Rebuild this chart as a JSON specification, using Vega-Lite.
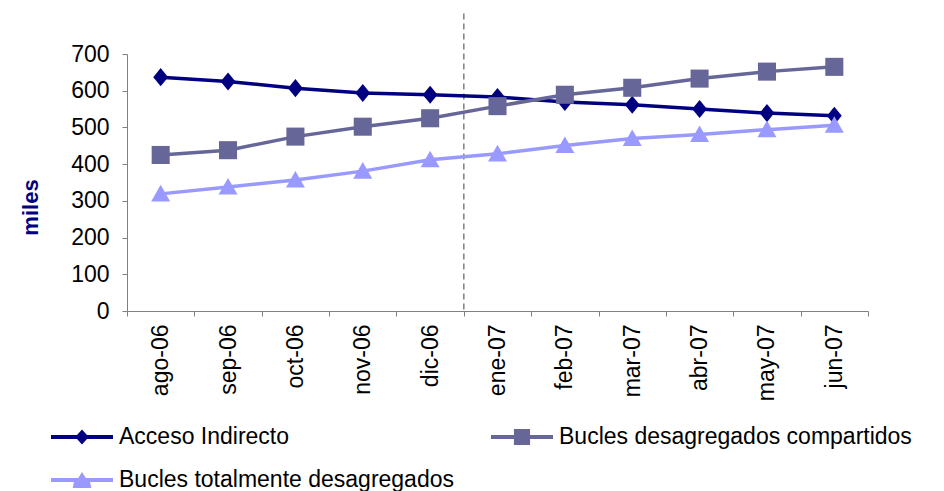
{
  "$schema": "https://vega.github.io/schema/vega-lite/v6.json",
  "width": 741,
  "height": 257,
  "padding": {"left": 19, "top": 12, "right": 0, "bottom": 0},
  "background": "white",
  "config": {
    "view": {"stroke": null},
    "font": "Liberation Sans",
    "axis": {"labelFont": "Liberation Sans", "titleFont": "Liberation Sans", "labelColor": "#000000", "domainColor": "#808080", "tickColor": "#808080", "grid": false, "labelFontSize": 23}
  },
  "datasets": {
    "series": [
      {"mes": "ago-06", "serie": "Acceso Indirecto", "v": 637},
      {"mes": "sep-06", "serie": "Acceso Indirecto", "v": 625},
      {"mes": "oct-06", "serie": "Acceso Indirecto", "v": 607},
      {"mes": "nov-06", "serie": "Acceso Indirecto", "v": 594},
      {"mes": "dic-06", "serie": "Acceso Indirecto", "v": 589},
      {"mes": "ene-07", "serie": "Acceso Indirecto", "v": 583},
      {"mes": "feb-07", "serie": "Acceso Indirecto", "v": 569},
      {"mes": "mar-07", "serie": "Acceso Indirecto", "v": 562},
      {"mes": "abr-07", "serie": "Acceso Indirecto", "v": 550},
      {"mes": "may-07", "serie": "Acceso Indirecto", "v": 539},
      {"mes": "jun-07", "serie": "Acceso Indirecto", "v": 532},
      {"mes": "ago-06", "serie": "Bucles desagregados compartidos", "v": 425},
      {"mes": "sep-06", "serie": "Bucles desagregados compartidos", "v": 438},
      {"mes": "oct-06", "serie": "Bucles desagregados compartidos", "v": 475},
      {"mes": "nov-06", "serie": "Bucles desagregados compartidos", "v": 502},
      {"mes": "dic-06", "serie": "Bucles desagregados compartidos", "v": 525},
      {"mes": "ene-07", "serie": "Bucles desagregados compartidos", "v": 558},
      {"mes": "feb-07", "serie": "Bucles desagregados compartidos", "v": 589},
      {"mes": "mar-07", "serie": "Bucles desagregados compartidos", "v": 608},
      {"mes": "abr-07", "serie": "Bucles desagregados compartidos", "v": 633},
      {"mes": "may-07", "serie": "Bucles desagregados compartidos", "v": 652},
      {"mes": "jun-07", "serie": "Bucles desagregados compartidos", "v": 665},
      {"mes": "ago-06", "serie": "Bucles totalmente desagregados", "v": 319},
      {"mes": "sep-06", "serie": "Bucles totalmente desagregados", "v": 338},
      {"mes": "oct-06", "serie": "Bucles totalmente desagregados", "v": 357},
      {"mes": "nov-06", "serie": "Bucles totalmente desagregados", "v": 381},
      {"mes": "dic-06", "serie": "Bucles totalmente desagregados", "v": 412},
      {"mes": "ene-07", "serie": "Bucles totalmente desagregados", "v": 428},
      {"mes": "feb-07", "serie": "Bucles totalmente desagregados", "v": 451},
      {"mes": "mar-07", "serie": "Bucles totalmente desagregados", "v": 470},
      {"mes": "abr-07", "serie": "Bucles totalmente desagregados", "v": 481},
      {"mes": "may-07", "serie": "Bucles totalmente desagregados", "v": 494},
      {"mes": "jun-07", "serie": "Bucles totalmente desagregados", "v": 506}
    ],
    "corte": [{"mes": "ene-07"}]
  },
  "resolve": {
    "scale": {"color": "independent", "shape": "independent"},
    "legend": {"color": "independent", "shape": "independent"}
  },
  "layer": [
    {
      "data": {"name": "corte"},
      "mark": {"type": "rule", "color": "#7f7f7f", "strokeWidth": 1.5, "strokeDash": [6, 4], "clip": false},
      "encoding": {
        "x": {"field": "mes", "type": "ordinal", "bandPosition": 0,
          "scale": {"domain": ["ago-06", "sep-06", "oct-06", "nov-06", "dic-06", "ene-07", "feb-07", "mar-07", "abr-07", "may-07", "jun-07"]},
          "axis": {"title": null, "labelAngle": -90, "labelAlign": "right", "labelBaseline": "middle", "tickBand": "extent", "tickSize": 5, "labelPadding": 8, "domainColor": "#808080"}},
        "y": {"datum": 810, "type": "quantitative",
          "scale": {"domain": [0, 700], "nice": false},
          "axis": {"title": "miles", "titleFontSize": 22, "titleFontWeight": "bold", "titleColor": "#000080", "titlePadding": 28, "titleY": 153, "values": [0, 100, 200, 300, 400, 500, 600, 700], "tickCount": 8, "labelOverlap": false, "tickSize": 5, "labelPadding": 13}},
        "y2": {"datum": 0}
      }
    },
    {
      "data": {"name": "series"},
      "mark": {"type": "line", "strokeWidth": 3.5},
      "encoding": {
        "x": {"field": "mes", "type": "ordinal"},
        "y": {"field": "v", "type": "quantitative",
          "axis": {"title": "miles", "titleFontSize": 22, "titleFontWeight": "bold", "titleColor": "#000080", "titlePadding": 28, "titleY": 153, "values": [0, 100, 200, 300, 400, 500, 600, 700], "tickCount": 8, "labelOverlap": false, "tickSize": 5, "labelPadding": 13}},
        "color": {"field": "serie", "type": "nominal", "legend": null,
          "scale": {"domain": ["Acceso Indirecto", "Bucles desagregados compartidos", "Bucles totalmente desagregados"], "range": ["#000080", "#666699", "#9999ff"]}}
      }
    },
    {
      "data": {"name": "series"},
      "mark": {"type": "point", "filled": true, "opacity": 1, "size": 361, "strokeWidth": 0},
      "encoding": {
        "x": {"field": "mes", "type": "ordinal"},
        "y": {"field": "v", "type": "quantitative",
          "axis": {"title": "miles", "titleFontSize": 22, "titleFontWeight": "bold", "titleColor": "#000080", "titlePadding": 28, "titleY": 153, "values": [0, 100, 200, 300, 400, 500, 600, 700], "tickCount": 8, "labelOverlap": false, "tickSize": 5, "labelPadding": 13}},
        "color": {"field": "serie", "type": "nominal", "legend": null,
          "scale": {"domain": ["Acceso Indirecto", "Bucles desagregados compartidos", "Bucles totalmente desagregados"], "range": ["#000080", "#666699", "#9999ff"]}},
        "shape": {"field": "serie", "type": "nominal", "legend": null,
          "scale": {"domain": ["Acceso Indirecto", "Bucles desagregados compartidos", "Bucles totalmente desagregados"],
            "range": ["M0,-0.95L0.78,0L0,0.95L-0.78,0Z", "M-0.95,-0.95H0.95V0.95H-0.95Z", "M0,-0.95L1,0.8H-1Z"]}}
      }
    },
    {
      "data": {"name": "series"},
      "transform": [{"filter": "datum.v < 0"}],
      "mark": {"type": "point", "filled": true, "opacity": 1, "strokeWidth": 0},
      "encoding": {
        "x": {"field": "mes", "type": "ordinal"},
        "y": {"field": "v", "type": "quantitative",
          "axis": {"title": "miles", "titleFontSize": 22, "titleFontWeight": "bold", "titleColor": "#000080", "titlePadding": 28, "titleY": 153, "values": [0, 100, 200, 300, 400, 500, 600, 700], "tickCount": 8, "labelOverlap": false, "tickSize": 5, "labelPadding": 13}},
        "color": {"field": "serie", "type": "nominal",
          "scale": {"domain": ["Acceso Indirecto", "Bucles desagregados compartidos", "Bucles totalmente desagregados"], "range": ["#000080", "#666699", "#9999ff"]},
          "legend": {"title": null, "orient": "none", "direction": "horizontal", "legendX": -76, "legendY": 352, "columns": 2, "columnPadding": 37, "rowPadding": -24, "labelFontSize": 23, "labelFont": "Liberation Sans", "labelColor": "#000000", "labelLimit": 0, "labelOffset": 6, "symbolSize": 3844, "symbolStrokeWidth": 0}},
        "shape": {"field": "serie", "type": "nominal",
          "scale": {"domain": ["Acceso Indirecto", "Bucles desagregados compartidos", "Bucles totalmente desagregados"],
            "range": ["M-1,-0.065H-0.16L0,-0.24L0.16,-0.065H1V0.065H0.16L0,0.24L-0.16,0.065H-1Z", "M-1,-0.065H-0.26V-0.26H0.26V-0.065H1V0.065H0.26V0.26H-0.26V0.065H-1Z", "M-1,-0.065H-0.12L0,-0.26L0.12,-0.065H1V0.065H0.26L0.3,0.26H-0.3L-0.26,0.065H-1Z"]},
          "legend": {"title": null, "orient": "none", "direction": "horizontal", "legendX": -76, "legendY": 352, "columns": 2, "columnPadding": 37, "rowPadding": -24, "labelFontSize": 23, "labelFont": "Liberation Sans", "labelColor": "#000000", "labelLimit": 0, "labelOffset": 6, "symbolSize": 3844, "symbolStrokeWidth": 0}}
      }
    }
  ]
}
